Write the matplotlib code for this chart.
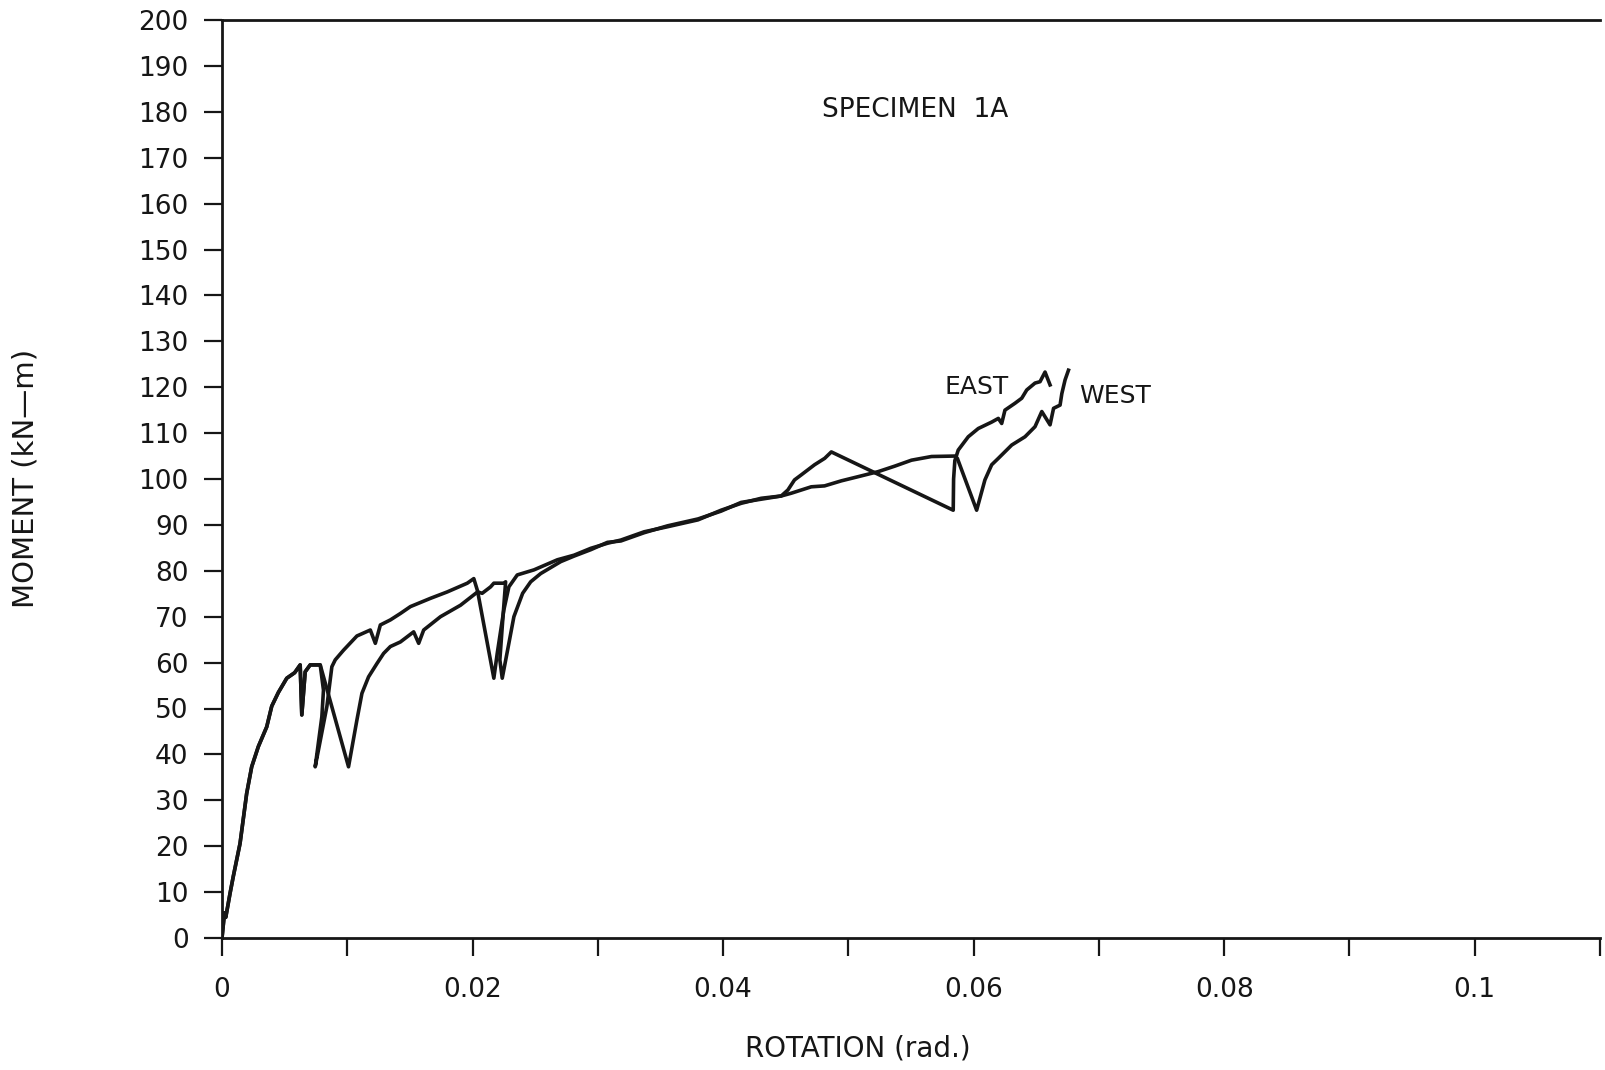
import matplotlib
matplotlib.use("Agg")
import matplotlib.pyplot as plt
from matplotlib.ticker import MultipleLocator, FuncFormatter

# ---- data ----
east_rot = [0.0, 0.0002, 0.0003, 0.00064, 0.0009, 0.00144, 0.00197, 0.00237, 0.0029,
            0.00357, 0.00397, 0.0045, 0.00517, 0.0058, 0.00624, 0.00637, 0.00664,
            0.00704, 0.00784, 0.0081, 0.00797, 0.00744, 0.00837, 0.00877, 0.00904,
            0.0097, 0.01077, 0.01184, 0.01224, 0.01264, 0.01344, 0.01424, 0.01504,
            0.01664, 0.01798, 0.01958, 0.0201, 0.0204, 0.0217, 0.02197, 0.0225,
            0.0229, 0.02357, 0.0249, 0.02677, 0.0281, 0.02944, 0.03077, 0.03184,
            0.0337, 0.03557, 0.038, 0.03984, 0.04144, 0.04304, 0.04464, 0.04517,
            0.0457, 0.04624, 0.0473, 0.04811, 0.04864, 0.05837, 0.0584, 0.0585,
            0.05877, 0.05957, 0.06037, 0.06144, 0.06197, 0.06224, 0.0625, 0.0633,
            0.06384, 0.06424, 0.0649, 0.0653, 0.0657, 0.0661]
east_mom = [0.0, 5.5, 4.5, 9.7, 13.4, 20.6, 31.5, 37.3, 41.7,
            46.0, 50.5, 53.5, 56.6, 57.8, 59.5, 48.6, 58.0,
            59.5, 59.5, 54.0, 48.2, 37.3, 50.4, 59.1, 60.6,
            62.7, 65.8, 67.1, 64.2, 68.2, 69.3, 70.7, 72.2,
            74.0, 75.4, 77.3, 78.3, 75.6, 56.6, 62.0, 71.5,
            76.5, 79.1, 80.2, 82.4, 83.4, 84.9, 86.0, 86.7,
            88.5, 89.6, 91.1, 93.2, 94.7, 95.8, 96.3, 97.6,
            99.8, 100.9, 103.1, 104.5, 105.9, 93.2, 100.0, 104.0,
            106.3, 109.2, 111.0, 112.4, 113.2, 112.1, 115.0, 116.5,
            117.6, 119.4, 120.9, 121.2, 123.3, 120.5]

west_rot = [0.0, 0.0002, 0.0003, 0.00064, 0.0009, 0.00144, 0.00197, 0.00237, 0.0029,
            0.00357, 0.00397, 0.0045, 0.00517, 0.0058, 0.00624, 0.00637, 0.00664,
            0.00704, 0.00784, 0.0101, 0.01077, 0.01117, 0.0117, 0.01237, 0.0129,
            0.01344, 0.01424, 0.01477, 0.0153, 0.0157, 0.0161, 0.01744, 0.01904,
            0.0204, 0.02077, 0.02144, 0.0217, 0.0225, 0.02264, 0.02237, 0.02218,
            0.02237, 0.0229, 0.0233, 0.024, 0.02464, 0.02544, 0.02704, 0.0281,
            0.02944, 0.03077, 0.03184, 0.0337, 0.03557, 0.038, 0.03984, 0.04144,
            0.04304, 0.04464, 0.04544, 0.04624, 0.04704, 0.0481, 0.04944, 0.05077,
            0.05237, 0.0537, 0.05504, 0.05664, 0.0585, 0.0587, 0.06024, 0.0609,
            0.06144, 0.06197, 0.06304, 0.0641, 0.0649, 0.06544, 0.0661, 0.06638,
            0.0669, 0.06704, 0.0673, 0.06757]
west_mom = [0.0, 5.5, 4.5, 9.7, 13.4, 20.6, 31.5, 37.3, 41.7,
            46.0, 50.5, 53.5, 56.6, 57.8, 59.5, 48.6, 58.0,
            59.5, 59.5, 37.3, 47.5, 53.3, 56.9, 59.8, 62.0,
            63.5, 64.5, 65.6, 66.7, 64.2, 67.1, 70.0, 72.5,
            75.4, 75.1, 76.5, 77.3, 77.3, 77.6, 67.8, 60.6,
            56.6, 64.2, 70.0, 75.1, 77.6, 79.4, 82.0, 83.2,
            84.6, 86.2, 86.5, 88.3, 89.8, 91.3, 93.0, 94.9,
            95.6, 96.3, 96.9, 97.6, 98.3, 98.5, 99.6, 100.5,
            101.6, 102.8, 104.1, 104.9, 105.0, 104.5, 93.2, 99.8,
            103.1, 104.5, 107.4, 109.2, 111.4, 114.7, 111.8, 115.4,
            116.1, 118.6, 121.6, 123.7]

x_tick_labels = ["0", "0.02", "0.04", "0.06", "0.08", "0.1"]
x_label_pos = [0.0, 0.02, 0.04, 0.06, 0.08, 0.10]

# ---- figure ----
plt.rcParams['font.family'] = ['DejaVu Sans']
fig = plt.figure(figsize=(16.05, 10.70), dpi=100)
ax = fig.add_axes([222/1605, 1 - 938/1070, 1378/1605, 918/1070])

ink = '#161616'
ax.plot(east_rot, east_mom, color=ink, lw=2.6, solid_joinstyle='round')
ax.plot(west_rot, west_mom, color=ink, lw=2.6, solid_joinstyle='round')

ax.set_xlim(0, 0.11)
ax.set_ylim(0, 200)

ax.xaxis.set_major_locator(MultipleLocator(0.01))
fmt_map = {round(p, 3): l for p, l in zip(x_label_pos, x_tick_labels)}
ax.xaxis.set_major_formatter(FuncFormatter(lambda v, p: fmt_map.get(round(v, 3), "")))
ax.yaxis.set_major_locator(MultipleLocator(10))
ax.yaxis.set_major_formatter(FuncFormatter(lambda v, p: f"{int(round(v))}"))

ax.tick_params(axis='both', direction='out', length=13, width=1.6, labelsize=19,
               color=ink, labelcolor=ink)
ax.tick_params(axis='y', pad=11)
ax.tick_params(axis='x', pad=15)

ax.spines['right'].set_visible(False)
for s in ['left', 'bottom', 'top']:
    ax.spines[s].set_linewidth(2.0)
    ax.spines[s].set_color(ink)

ax.text(0.0553, 180.4, "SPECIMEN  1A", fontsize=19, ha='center', va='center', color=ink)
ax.text(0.0602, 120.0, "EAST", fontsize=18, ha='center', va='center', color=ink)
ax.text(0.0713, 118.1, "WEST", fontsize=18, ha='center', va='center', color=ink)

fig.text(858/1605, 1 - 1049/1070, "ROTATION (rad.)", fontsize=20, ha='center', va='center',
         color=ink)
fig.text(26/1605, 1 - 478/1070, "MOMENT (kN\u2014m)", fontsize=21, ha='center', va='center',
         rotation=90, color=ink)

fig.savefig("out.png", dpi=100)
